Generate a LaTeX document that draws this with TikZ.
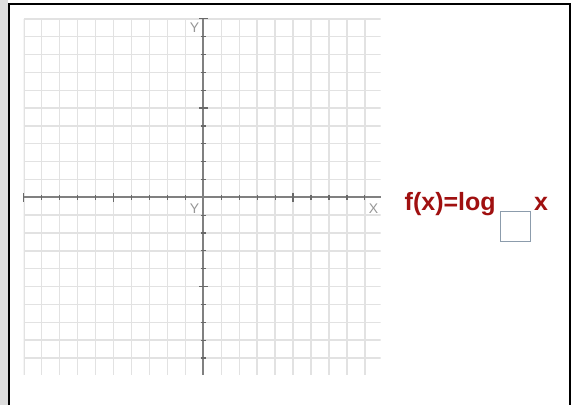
\documentclass[tikz,border=0pt]{standalone}
\usepackage{fontspec}
\setmainfont{Liberation Sans}
\usetikzlibrary{positioning}
\definecolor{gridline}{RGB}{226,226,226}
\definecolor{axisgray}{RGB}{128,128,128}
\definecolor{tickgray}{RGB}{105,105,105}
\definecolor{labelgray}{RGB}{150,150,150}
\definecolor{fnred}{RGB}{160,16,16}
\definecolor{boxedge}{RGB}{140,156,172}
\definecolor{sidegray}{RGB}{220,220,220}

\begin{document}
\begin{tikzpicture}[
  x=1pt, y=-1pt,
  grid/.style={draw=gridline, line width=1.4pt},
  axis/.style={draw=axisgray, line width=1.8pt},
  tick/.style={draw=tickgray, line width=1.2pt},
  axlabel/.style={text=labelgray, font=\fontsize{14}{14}\selectfont, inner sep=0pt},
  formula/.style={text=fnred, font=\fontsize{25}{29}\selectfont\bfseries, inner sep=0pt},
  answer/.style={draw=boxedge, line width=1.1pt, fill=white, minimum width=30pt, minimum height=30pt, inner sep=0pt}
]
\useasboundingbox (0,0) rectangle (572,405);
% frame
\fill[sidegray] (0,0) rectangle (8,405);
\draw[line width=2pt] (9,405) -- (9,3.5) -- (570,3.5) -- (570,405);

% grid
\begin{scope}
  \clip (23.5,18.5) rectangle (380.5,375);
  \foreach \k in {-10,...,9}
    \draw[grid] (203.3+17.95*\k,18.5) -- (203.3+17.95*\k,375);
  \foreach \k in {-10,...,9}
    \draw[grid] (23.5,197.3+17.85*\k) -- (380.5,197.3+17.85*\k);
\end{scope}

% axes
\draw[axis] (23.5,197.3) -- (380.5,197.3);
\draw[axis] (203.3,18.5) -- (203.3,375);
\foreach \k in {-10,...,9} {
  \ifnum\k=0\else
    \draw[tick] (203.3+17.95*\k,194.8) -- (203.3+17.95*\k,199.8);
    \draw[tick] (200.8,197.3+17.85*\k) -- (205.8,197.3+17.85*\k);
  \fi
}
\foreach \k in {-10,-5,5} {
  \draw[tick] (203.3+17.95*\k,193) -- (203.3+17.95*\k,201.6);
  \draw[tick] (199,197.3+17.85*\k) -- (207.6,197.3+17.85*\k);
}
\node[axlabel, anchor=north east] (ytop) at (199.5,23) {Y};
\node[axlabel, anchor=north east] (yorg) at (199.5,204) {Y};
\node[axlabel, anchor=north east] (xend) at (378.5,204) {X};

% function
\node[formula, anchor=base west] (logf) at (404.5,210.5) {f(x)=log};
\node[answer, anchor=north west] (base) at (500,211) {};
\node[formula, anchor=base west] (arg) at (534,210.5) {x};
\end{tikzpicture}
\end{document}
